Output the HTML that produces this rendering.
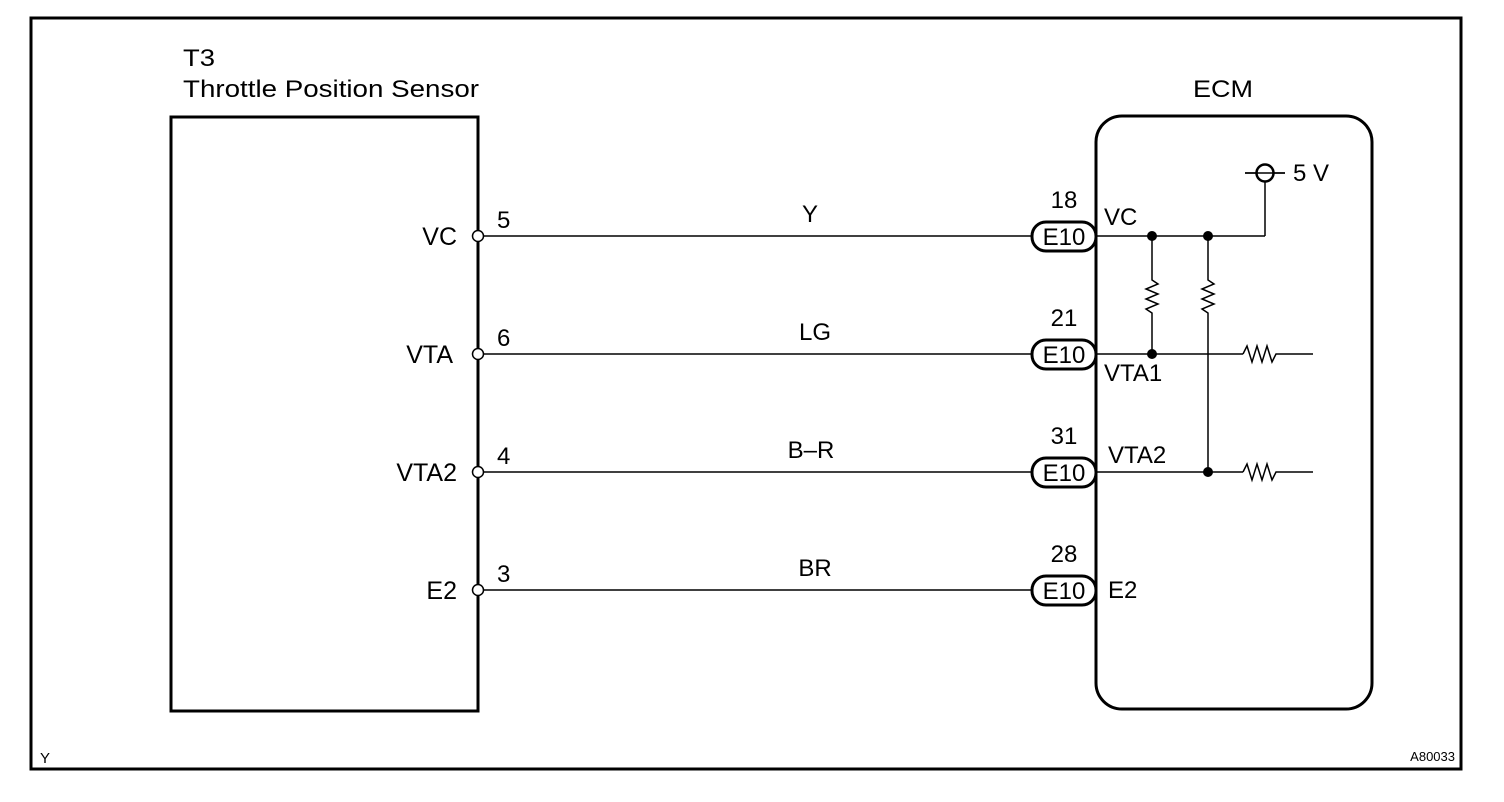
<!DOCTYPE html>
<html><head><style>body{margin:0;background:#fff}svg{display:block}text{font-family:"Liberation Sans",Arial,sans-serif;fill:#000}</style></head><body>
<svg width="1504" height="802" viewBox="0 0 1504 802" xmlns="http://www.w3.org/2000/svg">
<rect x="31" y="18" width="1430" height="751" fill="none" stroke="#000" stroke-width="3"/>
<rect x="171" y="117" width="307" height="594" fill="none" stroke="#000" stroke-width="3"/>
<rect x="1096" y="116" width="276" height="593" rx="26" fill="none" stroke="#000" stroke-width="3"/>
<text x="183" y="66" font-size="24" textLength="32" lengthAdjust="spacingAndGlyphs">T3</text>
<text x="183" y="97" font-size="24" textLength="296" lengthAdjust="spacingAndGlyphs">Throttle Position Sensor</text>
<text x="1193" y="97" font-size="24" textLength="60" lengthAdjust="spacingAndGlyphs">ECM</text>
<g stroke="#000" stroke-width="1.5" fill="none">
<line x1="478" y1="236" x2="1032" y2="236"/>
<line x1="478" y1="354" x2="1032" y2="354"/>
<line x1="478" y1="472" x2="1032" y2="472"/>
<line x1="478" y1="590" x2="1032" y2="590"/>
<line x1="1096" y1="236" x2="1265" y2="236"/>
<line x1="1265" y1="236" x2="1265" y2="182"/>
<line x1="1245" y1="173" x2="1285" y2="173"/>
<line x1="1096" y1="354" x2="1243" y2="354"/>
<line x1="1096" y1="472" x2="1243" y2="472"/>
<polyline points="1243,354 1247,346 1252,362 1257,346 1262,362 1267,346 1272,362 1276,354 1313,354"/>
<polyline points="1243,472 1247,464 1252,480 1257,464 1262,480 1267,464 1272,480 1276,472 1313,472"/>
<polyline points="1152,236 1152,280 1158,284 1146,289 1158,294 1146,299 1158,304 1146,309 1152,313 1152,354"/>
<polyline points="1208,236 1208,280 1214,284 1202,289 1214,294 1202,299 1214,304 1202,309 1208,313 1208,472"/>
</g>
<circle cx="1265" cy="173" r="8.5" fill="#fff" stroke="#000" stroke-width="2.5"/>
<line x1="1245" y1="173" x2="1285" y2="173" stroke="#000" stroke-width="1.5"/>
<g fill="#000"><circle cx="1152" cy="236" r="5"/><circle cx="1208" cy="236" r="5"/><circle cx="1152" cy="354" r="5"/><circle cx="1208" cy="472" r="5"/></g>
<g fill="#fff" stroke="#000" stroke-width="1.5">
<circle cx="478" cy="236" r="5.5"/><circle cx="478" cy="354" r="5.5"/><circle cx="478" cy="472" r="5.5"/><circle cx="478" cy="590" r="5.5"/>
</g>
<g fill="#fff" stroke="#000" stroke-width="3">
<rect x="1032" y="222" width="64" height="29" rx="14"/>
<rect x="1032" y="340" width="64" height="29" rx="14"/>
<rect x="1032" y="458" width="64" height="29" rx="14"/>
<rect x="1032" y="576" width="64" height="29" rx="14"/>
</g>
<g font-size="24" text-anchor="middle">
<text x="1064" y="245">E10</text><text x="1064" y="363">E10</text><text x="1064" y="481">E10</text><text x="1064" y="599">E10</text>
<text x="1064" y="208">18</text><text x="1064" y="326">21</text><text x="1064" y="444">31</text><text x="1064" y="562">28</text>
<text x="810" y="222">Y</text><text x="815" y="340">LG</text><text x="811" y="458">B–R</text><text x="815" y="576">BR</text>
</g>
<g font-size="25" text-anchor="end">
<text x="457" y="245">VC</text><text x="453" y="363">VTA</text><text x="457" y="481">VTA2</text><text x="457" y="599">E2</text>
</g>
<g font-size="24">
<text x="497" y="228">5</text><text x="497" y="346">6</text><text x="497" y="464">4</text><text x="497" y="582">3</text>
<text x="1104" y="225">VC</text><text x="1104" y="381">VTA1</text><text x="1108" y="463">VTA2</text><text x="1108" y="598">E2</text>
<text x="1293" y="181">5 V</text>
</g>
<text x="40" y="763" font-size="15">Y</text>
<text x="1455" y="761" font-size="13" text-anchor="end">A80033</text>
</svg>
</body></html>
